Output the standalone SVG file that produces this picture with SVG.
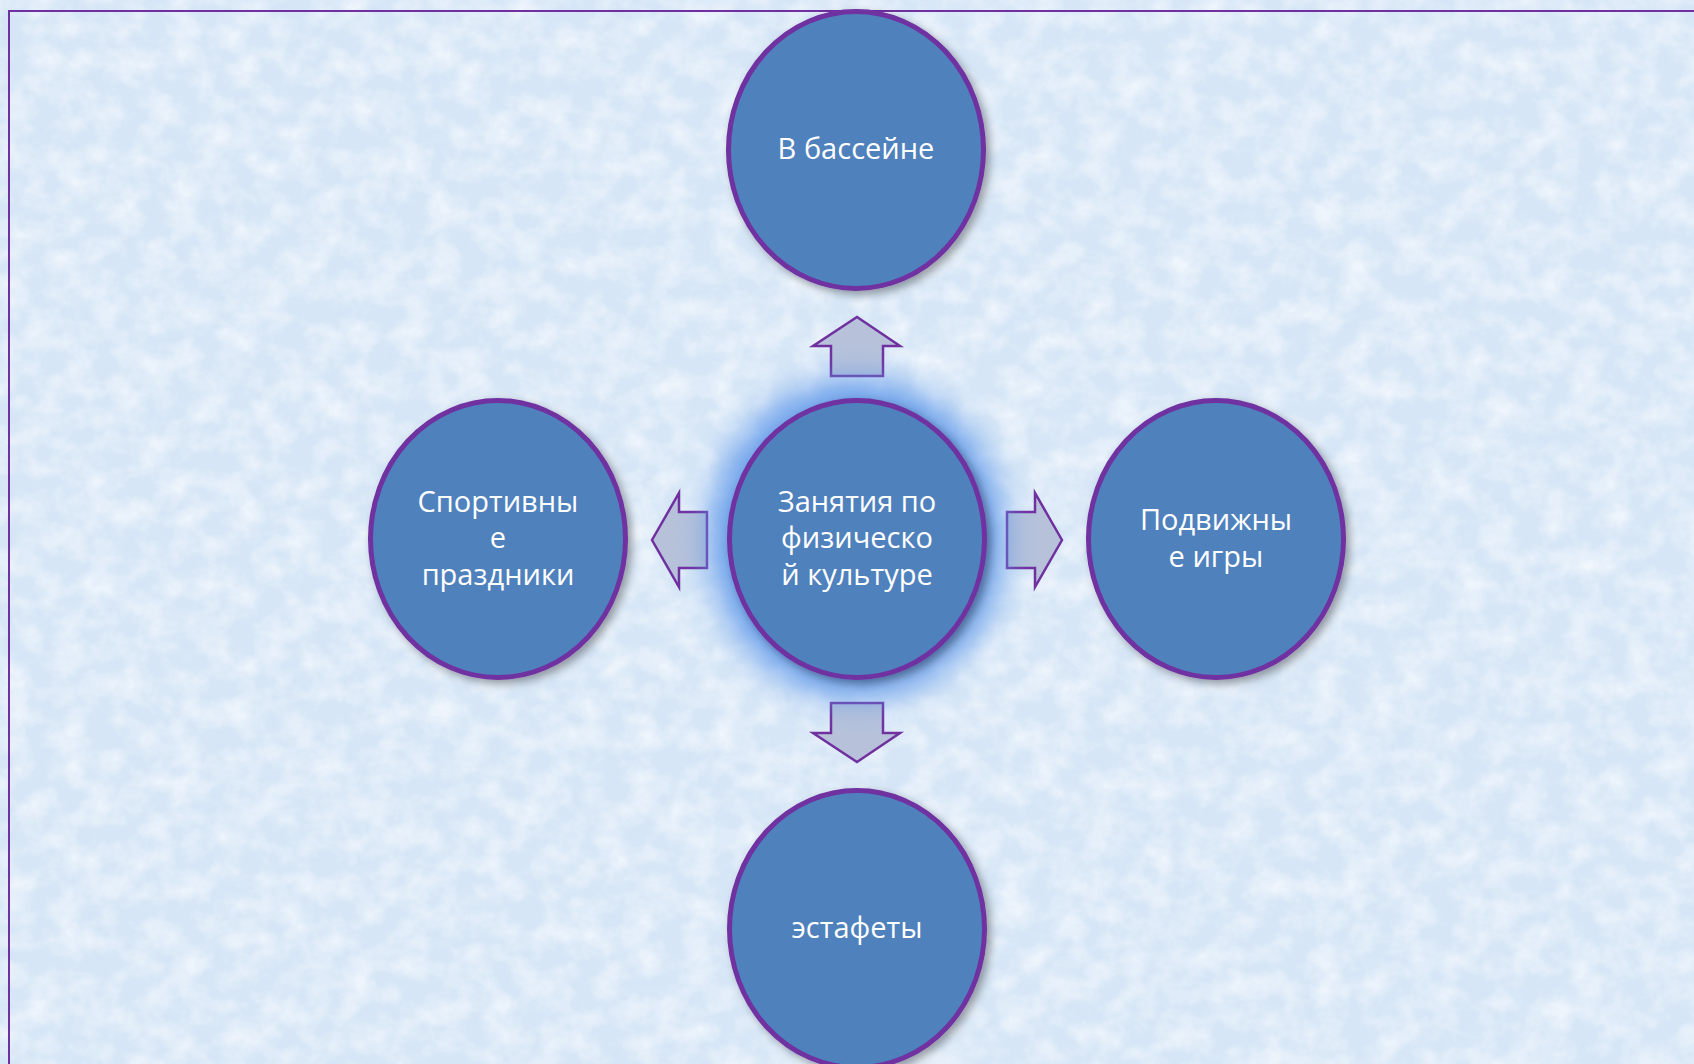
<svg xmlns="http://www.w3.org/2000/svg" width="1694" height="1064" viewBox="0 0 1694 1064">
  <defs>
    <filter id="tex" x="0" y="0" width="100%" height="100%">
      <feTurbulence type="fractalNoise" baseFrequency="0.035 0.04" numOctaves="4" seed="11" result="n"/>
      <feColorMatrix in="n" type="matrix" values="0 0 0 0 0.95  0 0 0 0 0.97  0 0 0 0 1.0  0 0 0 1.3 -0.45" result="c"/>
      <feComposite in="c" in2="SourceGraphic" operator="in"/>
    </filter>
    <filter id="shadow" x="-20%" y="-20%" width="140%" height="140%">
      <feGaussianBlur in="SourceAlpha" stdDeviation="4"/>
      <feOffset dx="4" dy="4" result="b"/>
      <feFlood flood-color="#000" flood-opacity="0.35"/>
      <feComposite in2="b" operator="in"/>
      <feMerge><feMergeNode/><feMergeNode in="SourceGraphic"/></feMerge>
    </filter>
    <filter id="glow" x="-40%" y="-40%" width="180%" height="180%">
      <feGaussianBlur stdDeviation="16"/>
    </filter>
    <style>
      .node { fill: #4f81bd; stroke: #7030a0; stroke-width: 5; }
      .lbl { fill: #ffffff; font-family: "Open Sans", "Noto Sans", sans-serif; font-size: 29px; text-anchor: middle; }
      .arrow { fill: #b7c2da; stroke: #7030a0; stroke-width: 2.5; stroke-linejoin: miter; }
    </style>
  </defs>

  <rect width="1694" height="1064" fill="#d6e6f6"/>
  <rect width="1694" height="1064" fill="#fff" filter="url(#tex)"/>
  <rect x="9" y="11" width="1700" height="1070" fill="none" stroke="#7030a0" stroke-width="2"/>

  <g id="connectors">
    <path class="arrow" d="M857,317 L900,346 L883,346 L883,376 L831,376 L831,346 L813,346 Z"/>
    <path class="arrow" d="M857,762 L900,733 L883,733 L883,703 L831,703 L831,733 L813,733 Z"/>
    <path class="arrow" d="M652,540 L679,493 L679,512 L707,512 L707,568 L679,568 L679,587 Z"/>
    <path class="arrow" d="M1062,540 L1035,493 L1035,512 L1007,512 L1007,568 L1035,568 L1035,587 Z"/>
  </g>

  <g id="node-center">
    <ellipse cx="857" cy="539" rx="148" ry="160" fill="#5f98ea" opacity="0.9" filter="url(#glow)"/>
    <ellipse class="node" cx="857" cy="539" rx="127.5" ry="138.5" filter="url(#shadow)"/>
    <text class="lbl" x="857" y="512">Занятия по</text>
    <text class="lbl" x="857" y="548">физическо</text>
    <text class="lbl" x="857" y="585">й культуре</text>
  </g>

  <g id="node-top">
    <ellipse class="node" cx="856" cy="150" rx="127.5" ry="138.5" filter="url(#shadow)"/>
    <text class="lbl" x="856" y="159">В бассейне</text>
  </g>

  <g id="node-left">
    <ellipse class="node" cx="498" cy="539" rx="127.5" ry="138.5" filter="url(#shadow)"/>
    <text class="lbl" x="498" y="512">Спортивны</text>
    <text class="lbl" x="498" y="548">е</text>
    <text class="lbl" x="498" y="585">праздники</text>
  </g>

  <g id="node-right">
    <ellipse class="node" cx="1216" cy="539" rx="127.5" ry="138.5" filter="url(#shadow)"/>
    <text class="lbl" x="1216" y="530">Подвижны</text>
    <text class="lbl" x="1216" y="567">е игры</text>
  </g>

  <g id="node-bottom">
    <ellipse class="node" cx="857" cy="929" rx="127.5" ry="138.5" filter="url(#shadow)"/>
    <text class="lbl" x="857" y="938">эстафеты</text>
  </g>
</svg>
